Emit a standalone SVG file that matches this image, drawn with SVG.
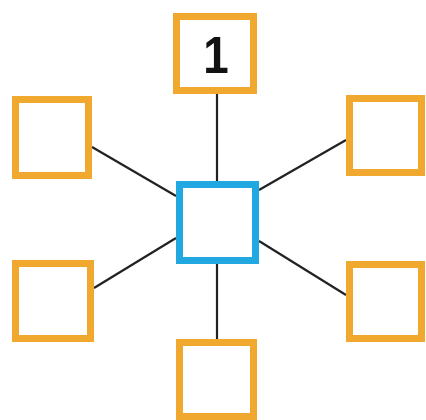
<svg xmlns="http://www.w3.org/2000/svg" width="426" height="420" viewBox="0 0 426 420">
<style>
.o{fill:#fff;stroke:#f0a82e;stroke-width:7}
.c{fill:#fff;stroke:#22a8e0;stroke-width:7}
.l{stroke:#222;stroke-width:2.2;fill:none}
.t{font-family:"Liberation Sans",Arial,sans-serif;font-weight:bold;font-size:52px;fill:#111;text-anchor:middle}
</style>
<rect width="426" height="420" fill="#fff"/>
<g id="connectors">
<line class="l" x1="217" y1="94" x2="217" y2="181"/>
<line class="l" x1="92" y1="147" x2="176" y2="196"/>
<line class="l" x1="346" y1="140" x2="259" y2="190"/>
<line class="l" x1="94" y1="288" x2="176" y2="238"/>
<line class="l" x1="346" y1="295" x2="259" y2="241"/>
<line class="l" x1="217" y1="264" x2="217" y2="339"/>
</g>
<g id="center"><rect class="c" x="179.5" y="184.5" width="76" height="76"/></g>
<g id="top"><rect class="o" x="176.5" y="16.5" width="77" height="74"/><text class="t" transform="translate(216,73) scale(0.88,1)">1</text></g>
<g id="left-top"><rect class="o" x="15.5" y="99.5" width="73" height="76"/></g>
<g id="right-top"><rect class="o" x="349.5" y="98.5" width="72" height="74"/></g>
<g id="left-bottom"><rect class="o" x="15.5" y="263.5" width="75" height="75"/></g>
<g id="right-bottom"><rect class="o" x="349.5" y="264.5" width="72" height="74"/></g>
<g id="bottom"><rect class="o" x="179.5" y="342.5" width="74" height="74"/></g>
</svg>
